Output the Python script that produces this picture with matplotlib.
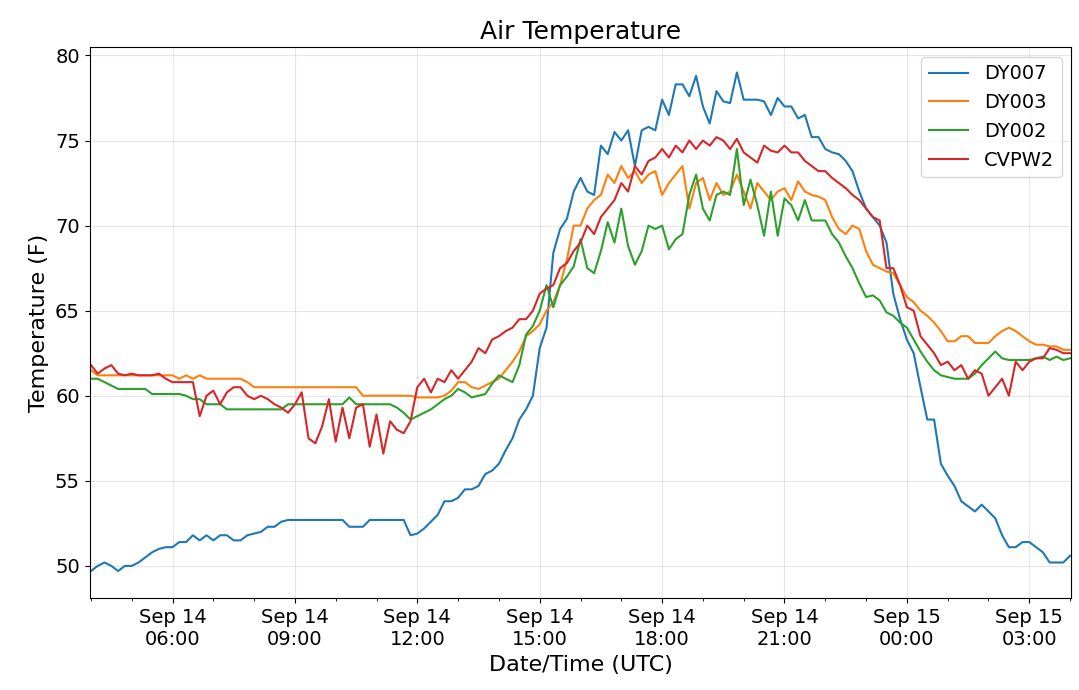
import numpy as np
import pandas as pd
import matplotlib
matplotlib.use('Agg')
import matplotlib.pyplot as plt
import matplotlib.dates as mdates

times = pd.date_range('2019-09-14 04:00', '2019-09-15 04:00', freq='10min')

dy007 = [
    49.7, 50.0, 50.2, 50.0, 49.7, 50.0,
    50.0, 50.2, 50.5, 50.8, 51.0, 51.1,
    51.1, 51.4, 51.4, 51.8, 51.5, 51.8,
    51.5, 51.8, 51.8, 51.5, 51.5, 51.8,
    51.9, 52.0, 52.3, 52.3, 52.6, 52.7,
    52.7, 52.7, 52.7, 52.7, 52.7, 52.7,
    52.7, 52.7, 52.3, 52.3, 52.3, 52.7,
    52.7, 52.7, 52.7, 52.7, 52.7, 51.8,
    51.9, 52.2, 52.6, 53.0, 53.8, 53.8,
    54.0, 54.5, 54.5, 54.7, 55.4, 55.6,
    56.0, 56.8, 57.5, 58.6, 59.2, 60.0,
    62.8, 64.0, 68.4, 69.8, 70.4, 72.0,
    72.8, 72.0, 71.8, 74.7, 74.2, 75.5,
    75.0, 75.6, 73.5, 75.6, 75.8, 75.6,
    77.4, 76.5, 78.3, 78.3, 77.6, 78.8,
    77.0, 76.0, 77.9, 77.3, 77.2, 79.0,
    77.4, 77.4, 77.4, 77.3, 76.5, 77.5,
    77.0, 77.0, 76.3, 76.5, 75.2, 75.2,
    74.5, 74.3, 74.2, 73.8, 73.2, 72.0,
    71.0, 70.5, 70.0, 69.0, 66.0, 64.5,
    63.3, 62.5, 60.5, 58.6, 58.6, 56.0,
    55.3, 54.7, 53.8, 53.5, 53.2, 53.6,
    53.2, 52.8, 51.8, 51.1, 51.1, 51.4,
    51.4, 51.1, 50.8, 50.2, 50.2, 50.2,
    50.6,
]

dy003 = [
    61.5, 61.2, 61.2, 61.2, 61.2, 61.2,
    61.2, 61.2, 61.2, 61.2, 61.2, 61.2,
    61.2, 61.0, 61.2, 61.0, 61.2, 61.0,
    61.0, 61.0, 61.0, 61.0, 61.0, 60.8,
    60.5, 60.5, 60.5, 60.5, 60.5, 60.5,
    60.5, 60.5, 60.5, 60.5, 60.5, 60.5,
    60.5, 60.5, 60.5, 60.5, 60.0, 60.0,
    60.0, 60.0, 60.0, 60.0, 60.0, 60.0,
    59.9, 59.9, 59.9, 59.9, 60.0, 60.3,
    60.8, 60.8, 60.5, 60.4, 60.6, 60.8,
    61.0, 61.5, 62.0, 62.6, 63.5, 63.8,
    64.2, 65.0, 65.5, 66.5, 68.0, 70.0,
    70.0, 71.0, 71.5, 71.8, 73.0, 72.5,
    73.5, 72.8, 73.2, 72.5, 73.0, 73.2,
    71.8, 72.5, 73.0, 73.5, 71.0, 72.5,
    72.8, 71.5, 72.5, 71.8, 72.0, 73.0,
    72.0, 71.0, 72.5, 72.0, 71.5, 72.0,
    72.2, 71.5, 72.6, 72.0, 71.8, 71.7,
    71.5, 70.5, 69.8, 69.5, 70.0, 69.8,
    68.5, 67.7, 67.5, 67.3, 67.2, 66.5,
    65.8, 65.5, 65.0, 64.7, 64.3, 63.8,
    63.2, 63.2, 63.5, 63.5, 63.1, 63.1,
    63.1, 63.5, 63.8, 64.0, 63.8, 63.5,
    63.2, 63.0, 63.0, 62.9, 62.9, 62.7,
    62.7,
]

dy002 = [
    61.0, 61.0, 60.8, 60.6, 60.4, 60.4,
    60.4, 60.4, 60.4, 60.1, 60.1, 60.1,
    60.1, 60.1, 60.0, 59.8, 59.8, 59.5,
    59.5, 59.5, 59.2, 59.2, 59.2, 59.2,
    59.2, 59.2, 59.2, 59.2, 59.2, 59.5,
    59.5, 59.5, 59.5, 59.5, 59.5, 59.5,
    59.5, 59.5, 59.9, 59.5, 59.5, 59.5,
    59.5, 59.5, 59.5, 59.3, 59.0, 58.6,
    58.8, 59.0, 59.2, 59.5, 59.8, 60.0,
    60.4, 60.2, 59.9, 60.0, 60.1, 60.7,
    61.2, 61.0, 60.8, 61.8, 63.6, 64.1,
    65.0, 66.5, 65.2, 66.5, 67.0, 67.6,
    69.2, 67.5, 67.2, 68.5, 70.2, 69.0,
    71.0, 68.8, 67.7, 68.5, 70.0, 69.8,
    70.0, 68.6, 69.2, 69.5, 71.8, 73.0,
    71.0, 70.3, 71.8, 72.0, 71.8, 74.5,
    71.2, 72.7, 71.2, 69.4, 72.0, 69.4,
    71.6, 71.2, 70.3, 71.5, 70.3, 70.3,
    70.3, 69.5, 69.0, 68.2, 67.5, 66.6,
    65.8, 65.9, 65.6, 64.9, 64.7, 64.3,
    64.0, 63.3, 62.6, 62.0, 61.5, 61.2,
    61.1, 61.0, 61.0, 61.0, 61.3, 61.8,
    62.2, 62.6, 62.2, 62.1, 62.1, 62.1,
    62.1, 62.2, 62.3, 62.1, 62.3, 62.1,
    62.2,
]

cvpw2 = [
    61.8, 61.3, 61.6, 61.8, 61.3, 61.2,
    61.3, 61.2, 61.2, 61.2, 61.3, 61.0,
    60.8, 60.8, 60.8, 60.8, 58.8, 60.0,
    60.3, 59.5, 60.2, 60.5, 60.5, 60.0,
    59.8, 60.0, 59.8, 59.5, 59.3, 59.0,
    59.5, 60.2, 57.5, 57.2, 58.2, 59.8,
    57.3, 59.3, 57.5, 59.3, 59.5, 57.0,
    58.9, 56.6, 58.5, 58.0, 57.8, 58.5,
    60.5, 61.0, 60.2, 61.0, 60.8, 61.5,
    61.0, 61.5, 62.0, 62.8, 62.5, 63.3,
    63.5, 63.8, 64.0, 64.5, 64.5, 65.0,
    66.0, 66.3, 66.5, 67.5, 67.8, 68.5,
    69.0, 70.0, 69.5, 70.5, 71.0, 71.5,
    72.5, 72.0, 73.5, 73.0, 73.8, 74.0,
    74.5, 74.0, 74.7, 74.3, 75.0, 74.5,
    75.0, 74.7, 75.2, 75.0, 74.5, 75.1,
    74.3, 74.0, 73.7, 74.7, 74.4, 74.3,
    74.7, 74.3, 74.3, 73.8, 73.5, 73.2,
    73.2, 72.8, 72.5, 72.2, 71.8, 71.5,
    71.0, 70.5, 70.3, 67.5, 67.5, 66.5,
    65.2, 65.0, 63.5, 63.0, 62.5, 61.8,
    62.0, 61.5, 61.8, 61.0, 61.5, 61.3,
    60.0, 60.5, 61.0, 60.0, 62.0, 61.5,
    62.0, 62.2, 62.2, 62.8, 62.7, 62.5,
    62.5,
]

series = [('DY007', dy007), ('DY003', dy003), ('DY002', dy002), ('CVPW2', cvpw2)]

fig, ax = plt.subplots(figsize=(10.79, 6.9), dpi=100)
for name, vals in series:
    ax.plot(times, vals, label=name, linewidth=1.5)

ax.set_xlim(pd.Timestamp('2019-09-14 03:58'), pd.Timestamp('2019-09-15 04:02'))
ax.set_ylim(48.1, 80.5)
ax.xaxis.set_major_locator(mdates.HourLocator(byhour=range(0, 24, 3)))
ax.xaxis.set_minor_locator(mdates.HourLocator())
ax.xaxis.set_major_formatter(mdates.DateFormatter('%b %d\n%H:%M'))
ax.tick_params(labelsize=14)
ax.grid(True, which='major', alpha=0.3)
ax.set_title('Air Temperature', fontsize=18)
ax.set_xlabel('Date/Time (UTC)', fontsize=16)
ax.set_ylabel('Temperature (F)', fontsize=16)
ax.legend(loc='upper right', fontsize=14)
fig.subplots_adjust(left=0.083, right=0.993, top=0.932, bottom=0.133)
fig.savefig('out.png')
